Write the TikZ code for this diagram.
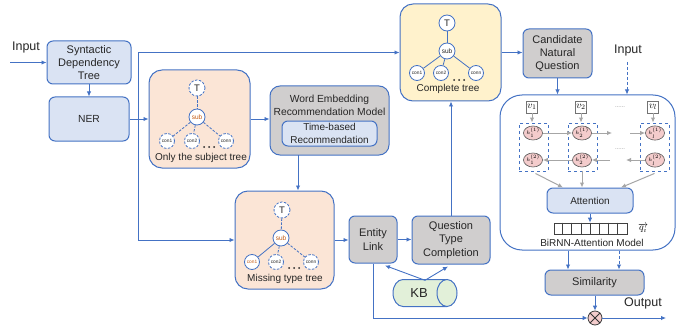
\documentclass[tikz,border=0pt]{standalone}
\usepackage{fontspec}
\setmainfont{Liberation Sans}
\usetikzlibrary{arrows.meta,shapes.geometric,calc}
\definecolor{bl}{HTML}{4472C4}
\definecolor{lbl}{HTML}{DAE3F3}
\definecolor{peach}{HTML}{FBE5D6}
\definecolor{ylw}{HTML}{FFF2CC}
\definecolor{gry}{HTML}{D0CECE}
\definecolor{grn}{HTML}{E2F0D9}
\definecolor{pnk}{HTML}{F4CCCC}
\definecolor{brn}{HTML}{C55A11}
\definecolor{ga}{HTML}{A6A6A6}
\definecolor{txt}{HTML}{262626}
\tikzset{
 blk/.style={draw=bl, line width=1pt, rounded corners=6pt, align=center, inner sep=0pt, text=txt},
 lbbox/.style={blk, fill=lbl},
 gbox/.style={blk, fill=gry},
 panel/.style={draw=bl, line width=1pt, rounded corners=13pt, inner sep=0pt},
 arr/.style={draw=bl, line width=0.9pt, -{Latex[length=5pt,width=4.5pt]}},
 garr/.style={draw=ga, line width=1pt, -{Latex[length=5pt,width=4.5pt]}},
 tn/.style={circle, draw=bl, fill=white, line width=0.8pt, minimum size=15.5pt, inner sep=0pt, text=txt},
 tT/.style={tn, minimum size=16pt, font=\fontsize{9.5}{10}\selectfont},
 tS/.style={tn, minimum size=16pt, font=\fontsize{6.5}{7}\selectfont},
 tC/.style={tn, minimum size=15pt, font=\fontsize{4.8}{5}\selectfont},
 tdash/.style={dash pattern=on 2.5pt off 1.5pt},
 tedge/.style={draw=bl, line width=0.8pt},
 f10/.style={font=\fontsize{10}{12.5}\selectfont},
 f103/.style={font=\fontsize{10.3}{13}\selectfont},
 f11/.style={font=\fontsize{11}{13.3}\selectfont},
 f125/.style={font=\fontsize{12.5}{14}\selectfont, text=txt},
 vbox/.style={draw=black!55, fill=white, line width=0.8pt, minimum width=11pt, minimum height=12pt, inner sep=0pt},
 col/.style={draw=bl, dashed, line width=0.9pt, minimum width=29pt, minimum height=48pt, inner sep=0pt},
 hcell/.style={ellipse, draw=black!65, fill=pnk, line width=0.6pt, minimum width=12pt, minimum height=14pt, inner sep=0pt, font=\fontsize{4.5}{5}\selectfont},
 dotlbl/.style={text=black!45, font=\fontsize{6}{6}\selectfont},
 dotf/.style={fill=txt}
}
\begin{document}
\begin{tikzpicture}[x=1pt,y=-1pt]
\useasboundingbox (0,0) rectangle (678,329);

% ---------- left column ----------
\node[f125] (in1) at (26,47) {Input};
\coordinate (in1s) at (10,62.5);
\node[lbbox,f11,minimum width=84pt,minimum height=43pt] (sdt) at (89,62.5) {Syntactic\\Dependency\\Tree};
\draw[arr] (in1s) -- (sdt.west);
\node[lbbox,f103,minimum width=80pt,minimum height=44pt] (ner) at (89,119) {NER};
\draw[arr] (sdt) -- (ner);

% ---------- subject tree ----------
\node[panel, fill=peach, minimum width=101pt, minimum height=98pt] (subj) at (199.5,119) {};
\node[tT,tdash] (sT) at (197,88) {T};
\node[tS,text=brn] (sS) at (197,117) {sub};
\node[tC,tdash] (sc1) at (167,141) {con1};
\node[tC,tdash] (sc2) at (192,141) {con2};
\node[tC,tdash] (scn) at (226,141) {conn};
\draw[tedge,tdash] (sT) -- (sS);
\draw[tedge,tdash] (sS) -- (sc1);
\draw[tedge,tdash] (sS) -- (sc2);
\draw[tedge,tdash] (sS) -- (scn);
\foreach \d in {-5,0,5} \fill[dotf] (209+\d,147) circle (1pt);
\node[f10,text=txt] (sL) at (201,158) {Only the subject tree};

% ---------- word embedding ----------
\node[gbox, minimum width=119pt, minimum height=69pt, rounded corners=10pt] (werm) at (329.5,120.5) {};
\node[f103,text=txt,align=center] (wermT) at (329.5,105.5) {Word Embedding\\Recommendation Model};
\node[lbbox,f10,minimum width=95pt,minimum height=25pt] (tbr) at (329.5,133.5) {Time-based\\Recommendation};

% ---------- missing type tree ----------
\node[panel, fill=peach, minimum width=99pt, minimum height=98pt] (miss) at (284.5,240) {};
\node[tT,tdash] (mT) at (282,210) {T};
\node[tS,text=brn] (mS) at (281,238) {sub};
\node[tC,text=brn] (mc1) at (252,262) {con1};
\node[tC,tdash] (mc2) at (276,262) {con2};
\node[tC,tdash] (mcn) at (311,262) {conn};
\draw[tedge,tdash] (mT) -- (mS);
\draw[tedge] (mS) -- (mc1);
\draw[tedge,tdash] (mS) -- (mc2);
\draw[tedge,tdash] (mS) -- (mcn);
\foreach \d in {-5,0,5} \fill[dotf] (294+\d,268) circle (1pt);
\node[f10,text=txt] (mL) at (285,279) {Missing type tree};

% ---------- complete tree ----------
\node[panel, fill=ylw, minimum width=101pt, minimum height=97pt] (comp) at (450.5,52.5) {};
\node[tT] (cT) at (447,23) {T};
\node[tS] (cS) at (447,51) {sub};
\node[tC] (cc1) at (417,73) {con1};
\node[tC] (cc2) at (441,73) {con2};
\node[tC] (ccn) at (476,73) {conn};
\draw[tedge] (cT) -- (cS);
\draw[tedge] (cS) -- (cc1);
\draw[tedge] (cS) -- (cc2);
\draw[tedge] (cS) -- (ccn);
\foreach \d in {-5,0,5} \fill[dotf] (459+\d,80) circle (1pt);
\node[f10,text=txt] (cL) at (448,89) {Complete tree};

% ---------- entity link / question type ----------
\node[gbox,f11,minimum width=48pt,minimum height=47pt] (el) at (373,239.5) {Entity\\Link};
\node[gbox,f11,minimum width=78pt,minimum height=48pt] (qtc) at (451,240) {Question\\Type\\Completion};
% KB cylinder (drawn by hand)
\node[minimum width=64pt, minimum height=27pt, inner sep=0pt] (kb) at (425,293) {};
\filldraw[draw=bl, fill=grn, line width=1pt]
  (447,279.5) -- (403,279.5) arc[start angle=-90, end angle=-270, x radius=10, y radius=13.5] -- (447,306.5);
\filldraw[draw=bl, fill=grn, line width=1pt] (447,293) ellipse [x radius=10, y radius=13.5];
\node[font=\fontsize{13}{14}\selectfont, text=txt] (kbL) at (419,293) {KB};

% ---------- candidate ----------
\node[gbox,f11,minimum width=69pt,minimum height=49pt] (cand) at (557.5,53.5) {Candidate\\Natural\\Question};
\node[f125] (in2) at (628,50) {Input};
\coordinate (in2s) at (627,62);

% ---------- BiRNN-attention ----------
\node[draw=bl, line width=1pt, fill=white, rounded corners=22pt, minimum width=175pt, minimum height=155pt] (bir) at (587.5,172.5) {};
\node[f10,text=txt] (birL) at (592,243) {BiRNN-Attention Model};
\node[vbox] (v1) at (532,107) {$v_1$};
\node[vbox] (v2) at (581,107) {$v_2$};
\node[vbox] (vl) at (653,107) {$v_l$};
\node[dotlbl] (d1) at (620,107) {......};
\node[col] (k1) at (533.5,147) {};
\node[col] (k2) at (582.5,147) {};
\node[col] (k3) at (654.5,147) {};
\node[hcell] (h11) at (533,133) {$h_1^{(1)}$};
\node[hcell] (h12) at (533,160) {$h_1^{(2)}$};
\node[hcell] (h21) at (582,133) {$h_2^{(1)}$};
\node[hcell] (h22) at (582,160) {$h_2^{(2)}$};
\node[hcell] (hl1) at (655,133) {$h_l^{(1)}$};
\node[hcell] (hl2) at (655,160) {$h_l^{(2)}$};
\node[dotlbl] (d2) at (620,149) {......};
\draw[garr] (v1) -- (k1.north -| v1);
\draw[garr] (v2) -- (k2.north -| v2);
\draw[garr] (vl) -- (k3.north -| vl);
\coordinate (ta) at (612,133);
\coordinate (tb) at (630,133);
\coordinate (ba) at (610,160);
\coordinate (bb) at (626,160);
\draw[garr] (h11) -- (h21);
\draw[garr] (h21) -- (ta);
\draw[garr] (tb) -- (hl1);
\draw[garr] (h22) -- (h12);
\draw[garr] (ba) -- (h22);
\draw[garr] (hl2) -- (bb);
\node[lbbox,f10,minimum width=86pt,minimum height=25pt] (att) at (590,200.5) {Attention};
\draw[garr] ($(k1.south)+(2,2)$) -- ($(att.north)+(-27,0)$);
\draw[garr] (k2.south -| h22) -- (att.north -| h22);
\draw[garr] ($(k3.south)+(0,2)$) -- ($(att.north)+(31,0)$);
\node[draw=black!75, line width=0.8pt, fill=white, minimum width=73pt, minimum height=11pt, inner sep=0pt] (vec) at (590.5,228.5) {};
\foreach \i in {1,...,7} \draw[black!75, line width=0.8pt] ($(vec.north west)+(\i*9.125,0)$) -- ($(vec.south west)+(\i*9.125,0)$);
\node[font=\fontsize{10}{11}\selectfont, inner sep=1pt] (qi) at (643,228) {$\overrightarrow{q_i}$};
\draw[arr] (att.south) -- (att.south |- vec.north);

% ---------- similarity & output ----------
\node[gbox,f11,minimum width=99pt,minimum height=25pt] (sim) at (594.5,282.5) {Similarity};
\node[circle, draw=black!75, fill=pnk, line width=0.8pt, minimum size=14pt, inner sep=0pt] (ot) at (595,318) {};
\draw[black!80, line width=0.8pt] (ot.north west) -- (ot.south east) (ot.north east) -- (ot.south west);
\node[f125] (outL) at (643,303) {Output};
\coordinate (outE) at (666,318);

% ---------- connectors ----------
\coordinate (br) at (138,119);
\draw[arr] (ner.east) -- (subj.west);
\draw[arr] (br) |- (comp.west);
\draw[arr] (br) |- (miss.west);
\draw[arr] (subj.east) -- (subj.east -| werm.west);
\coordinate (wm) at (298,155);
\draw[arr] (wm) -- (wm |- miss.north);
\draw[arr] (miss.east) -- (miss.east -| el.west);
\draw[arr] (el.east) -- (el.east -| qtc.west);
\draw[arr] (qtc.north) -- (qtc.north |- comp.south);
\draw[arr] (comp.east) -- (comp.east -| cand.west);
\draw[arr] (cand.south) -- (cand.south |- bir.north);
\draw[arr, dash pattern=on 3pt off 2pt] (in2s) -- (in2s |- bir.north);
\draw[arr] ($(kb.north)+(0,1)$) -- ($(el.south)+(12,2)$);
\draw[arr] ($(kb.north)+(0,1)$) -- ($(qtc.south)+(-3,2)$);
\draw[arr] (el.south) |- (ot.west);
\coordinate (s1) at ($(sim.north)+(-26.5,0)$);
\coordinate (s2) at ($(sim.north)+(24.5,0)$);
\draw[arr] (bir.south -| s1) -- (s1);
\draw[arr, dash pattern=on 3pt off 2pt] (bir.south -| s2) -- (s2);
\draw[arr] (sim.south -| ot) -- (ot.north);
\draw[arr] (ot.east) -- (outE);
\end{tikzpicture}
\end{document}
